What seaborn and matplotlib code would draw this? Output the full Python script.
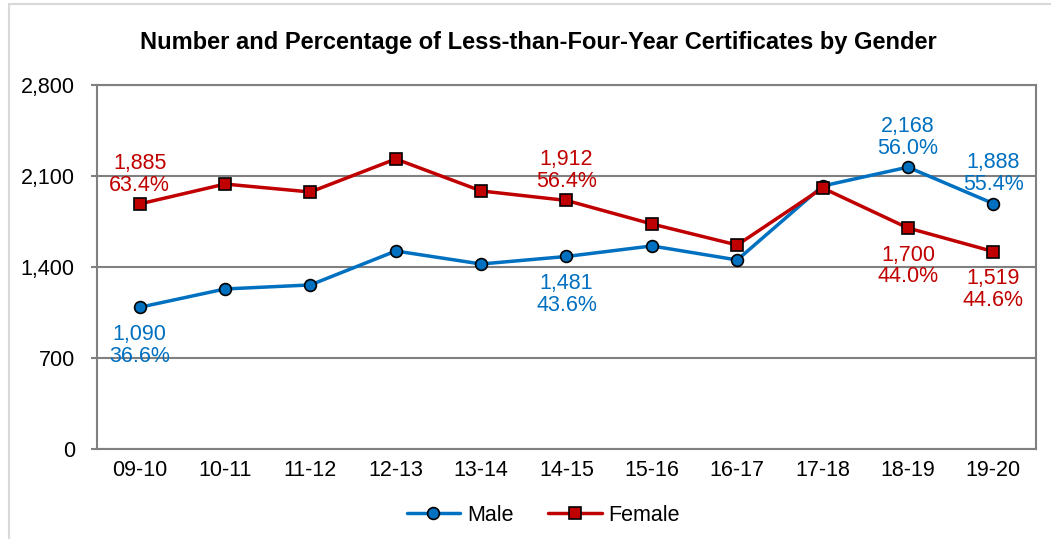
import matplotlib
matplotlib.use("Agg")
import matplotlib.pyplot as plt
import seaborn as sns
import pandas as pd
from matplotlib.lines import Line2D

sns.set_style("white")
plt.rcParams['font.family'] = ['Liberation Sans', 'DejaVu Sans']

years = ["09-10", "10-11", "11-12", "12-13", "13-14", "14-15",
         "15-16", "16-17", "17-18", "18-19", "19-20"]
male = [1090, 1231, 1262, 1523, 1423, 1481, 1562, 1454, 2023, 2168, 1888]
female = [1885, 2038, 1977, 2231, 1985, 1912, 1731, 1569, 2008, 1700, 1519]
male_pct = ["36.6%", "", "", "", "", "43.6%", "", "", "", "56.0%", "55.4%"]
female_pct = ["63.4%", "", "", "", "", "56.4%", "", "", "", "44.0%", "44.6%"]
male_above = [False, None, None, None, None, False, None, None, None, True, True]
female_above = [True, None, None, None, None, True, None, None, None, False, False]

blue = "#0070C0"
red = "#C00000"

df = pd.DataFrame({"year": years, "Male": male, "Female": female})

fig = plt.figure(figsize=(10.51, 5.39), dpi=100)
ax = fig.add_axes([0.0923, 0.167, 0.8934, 0.6753])

sns.lineplot(data=df, x="year", y="Male", color=blue, marker="o", markersize=8.5,
             markeredgecolor="black", markeredgewidth=1.2, linewidth=2.5,
             label="Male", ax=ax, zorder=3)
sns.lineplot(data=df, x="year", y="Female", color=red, marker="s", markersize=8.5,
             markeredgecolor="black", markeredgewidth=1.2, linewidth=2.5,
             label="Female", ax=ax, zorder=3)

def add_labels(vals, pcts, above, color):
    for i, (v, p, a) in enumerate(zip(vals, pcts, above)):
        if not p:
            continue
        txt = f"{v:,}\n{p}"
        ax.annotate(txt, (i, v), textcoords="offset points",
                    xytext=(0, 6 if a else -12), ha="center",
                    va="bottom" if a else "top", color=color,
                    fontsize=15.5, linespacing=1.05)

add_labels(male, male_pct, male_above, blue)
add_labels(female, female_pct, female_above, red)

ax.set_xlim(-0.5, 10.5)
ax.set_ylim(0, 2800)
ax.set_yticks([0, 700, 1400, 2100, 2800])
ax.set_yticklabels(["0", "700", "1,400", "2,100", "2,800"])
ax.yaxis.grid(True, color="#808080", linewidth=1.5)
ax.set_axisbelow(True)
for s in ax.spines.values():
    s.set_color("#808080")
    s.set_linewidth(1.5)
ax.tick_params(axis="y", length=4, width=1.5, color="#808080", pad=12,
               labelsize=15.5, labelcolor="black", left=True)
ax.tick_params(axis="x", length=0, pad=8, labelsize=15.5, labelcolor="black")
ax.set_xlabel("")
ax.set_ylabel("")

fig.text(0.512, 0.921,
         "Number and Percentage of Less-than-Four-Year Certificates by Gender",
         ha="center", va="center", fontsize=17, fontweight="bold", color="black")

leg = ax.legend(loc="center", bbox_to_anchor=(0.475, -0.182), ncol=2, frameon=False,
                fontsize=15.5, handlelength=2.5, columnspacing=1.6, handletextpad=0.3)
for t in leg.get_texts():
    t.set_color("black")

fig.add_artist(Line2D([9 / 1051, 9 / 1051], [0, 1 - 4 / 539],
                      transform=fig.transFigure, color="#D9D9D9", linewidth=1.5))
fig.add_artist(Line2D([9 / 1051, 1], [1 - 4 / 539, 1 - 4 / 539],
                      transform=fig.transFigure, color="#D9D9D9", linewidth=1.5))

fig.savefig("out.png", dpi=100)
